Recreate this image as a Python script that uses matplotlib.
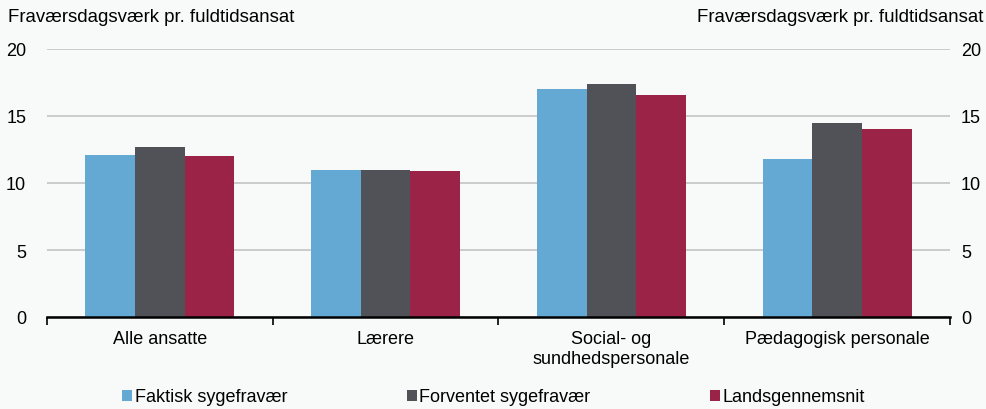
import matplotlib
matplotlib.use("Agg")
import matplotlib.pyplot as plt
import numpy as np
from matplotlib.patches import Patch

plt.rcParams['font.family'] = ['Liberation Sans', 'DejaVu Sans']

categories = ["Alle ansatte", "Lærere", "Social- og\nsundhedspersonale", "Pædagogisk personale"]
series_names = ["Faktisk sygefravær", "Forventet sygefravær", "Landsgennemsnit"]
faktisk = [12.1, 11.0, 17.0, 11.8]
forventet = [12.7, 11.0, 17.4, 14.5]
lands = [12.0, 10.9, 16.6, 14.0]
yticks = [0, 5, 10, 15, 20]
ylabel = "Fraværsdagsværk pr. fuldtidsansat"

colors = ["#63a9d4", "#505257", "#9a2347"]
bg = "#f8f9f9"
fs = 13

fig = plt.figure(figsize=(9.87, 4.10), dpi=100, facecolor=bg)
ax = fig.add_axes([47/987, 1-318/410, (950-47)/987, (318-50)/410], facecolor=bg)

x = np.arange(len(categories))
w = 0.22
for i, (vals, c) in enumerate(zip([faktisk, forventet, lands], colors)):
    ax.bar(x + (i-1)*w, vals, w, color=c, zorder=3, label=series_names[i])

ax.set_xlim(-0.5, len(categories)-0.5)
ax.set_ylim(0, 20)
ax.set_yticks(yticks)
ax.grid(axis='y', color='#c4c4c4', linewidth=1.2, zorder=0)
for s in ['left', 'right', 'top']:
    ax.spines[s].set_visible(False)
ax.spines['bottom'].set_color('black')
ax.spines['bottom'].set_linewidth(1.8)
ax.spines['bottom'].set_zorder(4)
ax.tick_params(axis='y', length=0, labelsize=fs, pad=15)
ax.set_xticks(np.arange(-0.5, len(categories), 1.0))
ax.set_xticklabels([])
ax.set_xticks(x, minor=True)
ax.set_xticklabels(categories, minor=True, fontsize=fs)
ax.tick_params(axis='x', which='major', length=6, width=1.2, color='black', direction='out')
ax.tick_params(axis='x', which='minor', length=0, pad=9)
for lbl in ax.get_xticklabels(minor=True):
    lbl.set_linespacing(1.3)

ax2 = ax.twinx()
ax2.set_ylim(0, 20)
ax2.set_yticks(yticks)
for s in ax2.spines.values():
    s.set_visible(False)
ax2.tick_params(axis='y', length=0, labelsize=fs, pad=8)

fig.text(8/987, 1-18/410, ylabel, fontsize=13.4, ha='left', va='center')
fig.text(983/987, 1-18/410, ylabel, fontsize=13.4, ha='right', va='center')

handles = [Patch(facecolor=c, edgecolor='none') for c in colors]
fig.legend(handles, series_names, loc='center', bbox_to_anchor=(0.5, 1-398/410), ncol=3,
           frameon=False, fontsize=fs, handlelength=0.55, handleheight=0.55,
           handletextpad=0.15, columnspacing=6.6)

fig.savefig("out.png", dpi=100, facecolor=bg)
